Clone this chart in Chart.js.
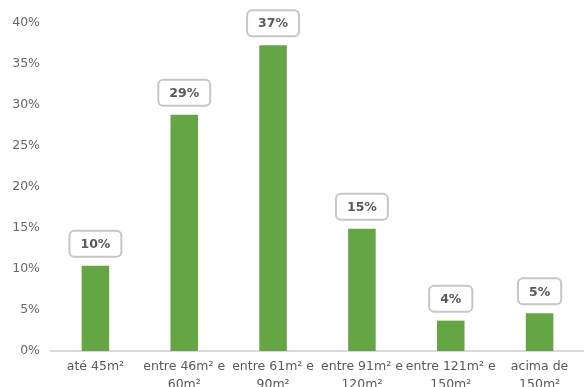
<!DOCTYPE html>
<html><head><meta charset="utf-8">
<script src="https://cdn.jsdelivr.net/npm/chart.js@4"></script>
<style>
html,body{margin:0;padding:0;background:#fff;overflow:hidden;width:584px;height:387px;}
#wrap{position:relative;width:584px;height:400px;}
</style></head>
<body><div id="wrap"><canvas id="c"></canvas></div>
<script>
const categories = [["até 45m²"],["entre 46m² e","60m²"],["entre 61m² e","90m²"],["entre 91m² e","120m²"],["entre 121m² e","150m²"],["acima de","150m²"]];
const values = [10.4, 28.8, 37.3, 14.9, 3.7, 4.6];
const valueLabels = ["10%","29%","37%","15%","4%","5%"];
const yTicks = [0,5,10,15,20,25,30,35,40];

const FONT = "'DejaVu Sans', sans-serif";

const boxLabels = {
  id:'boxLabels',
  afterDatasetsDraw(chart){
    const ctx = chart.ctx;
    const meta = chart.getDatasetMeta(0);
    ctx.save();
    ctx.font = "bold 12.5px " + FONT;
    meta.data.forEach((bar,i)=>{
      const t = valueLabels[i];
      const tw = ctx.measureText(t).width;
      const w = tw + 22, h = 26;
      const x = bar.x - w/2, y = bar.y - 9 - h;
      ctx.beginPath();
      ctx.roundRect(x, y, w, h, 5);
      ctx.fillStyle = '#fff';
      ctx.fill();
      ctx.lineWidth = 2;
      ctx.strokeStyle = '#c6c6c6';
      ctx.stroke();
      ctx.fillStyle = '#595959';
      ctx.textAlign = 'center';
      ctx.textBaseline = 'middle';
      ctx.fillText(t, bar.x, y + h/2 + 1);
    });
    ctx.restore();
  }
};

new Chart(document.getElementById('c'), {
  type:'bar',
  data:{labels:categories, datasets:[{data:values, backgroundColor:'#64a644', barPercentage:0.62, categoryPercentage:0.5}]},
  options:{
    responsive:true, maintainAspectRatio:false, animation:false,
    layout:{padding:{top:23,right:0,left:0,bottom:0}},
    plugins:{legend:{display:false}, tooltip:{enabled:false}},
    scales:{
      x:{
        grid:{display:false, drawTicks:false},
        border:{display:true, color:'#d9d9d9', width:2},
        ticks:{color:'#595959', font:{family:FONT, size:12.5, lineHeight:1.45}, padding:7, maxRotation:0, autoSkip:false},
        afterFit(s){ s.height = 49; }
      },
      y:{
        min:0, max:40,
        grid:{display:false, drawTicks:false},
        border:{display:false},
        afterBuildTicks(s){ s.ticks = yTicks.map(v=>({value:v})); },
        ticks:{color:'#666666', font:{family:FONT, size:12.5}, padding:11, callback:v=>v+'%'},
        afterFit(s){ s.width = 51; }
      }
    }
  },
  plugins:[boxLabels]
});
</script></body></html>
